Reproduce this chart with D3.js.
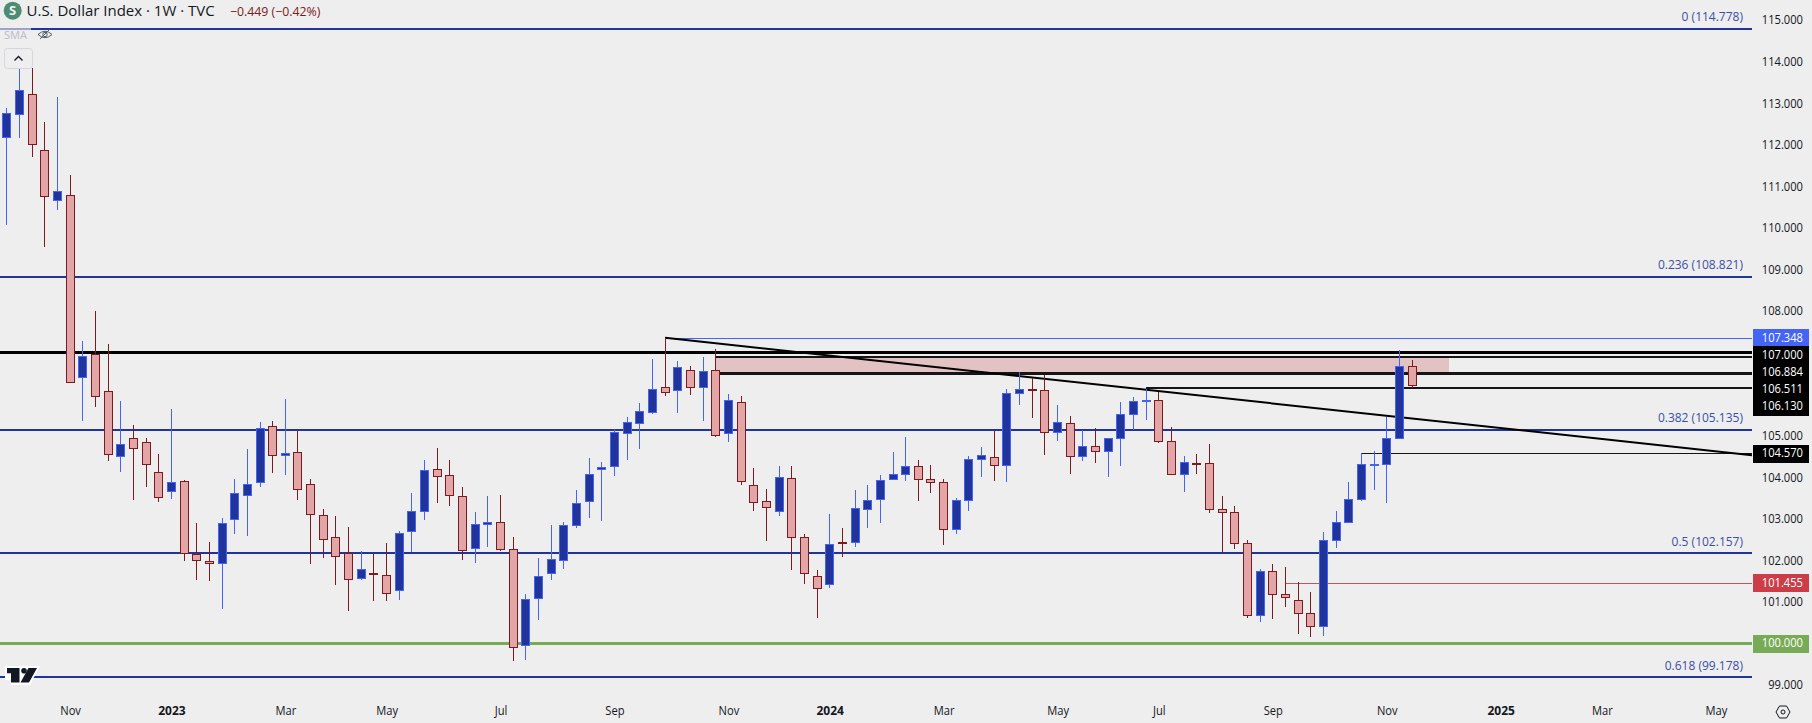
<!DOCTYPE html>
<html>
<head>
<meta charset="utf-8">
<title>U.S. Dollar Index</title>
<script src="https://cdn.jsdelivr.net/npm/d3@7"></script>
<style>
  html, body { margin: 0; padding: 0; background: #eeeeee; overflow: hidden; }
  svg { display: block; }
  text { font-family: "Open Sans", sans-serif; }
  .axis text { font-size: 12px; fill: #131722; }
  .axis path, .axis line { display: none; }
</style>
</head>
<body>
<div id="chart"></div>
<script>
// Candles, semana a semana
const opens = [112.170,112.723,113.204,111.857,110.654,110.774,106.395,106.948,106.058,104.494,104.927,104.831,104.109,103.652,103.893,102.152,101.968,101.920,102.978,103.556,103.869,105.232,104.518,104.606,103.837,103.091,102.561,102.176,101.559,101.695,101.647,101.270,102.690,103.171,104.197,104.037,103.531,102.280,102.858,102.906,102.272,99.946,101.077,101.679,101.992,102.834,103.411,104.181,104.253,105.047,105.288,105.552,106.154,106.082,106.563,106.154,106.563,105.047,105.793,103.796,103.411,103.171,103.964,102.561,101.623,101.414,102.425,102.425,103.219,103.459,103.940,104.061,104.253,103.940,103.868,102.737,103.435,104.422,104.470,104.277,106.010,106.106,106.082,105.071,105.288,104.494,104.734,104.614,104.927,105.504,105.833,105.841,104.855,104.061,104.341,104.325,103.219,103.146,102.401,100.668,101.727,101.174,101.029,100.716,100.404,102.473,102.906,103.459,104.293,104.301,104.927,106.659];
const highs = [112.867,113.910,113.846,112.539,113.140,111.263,107.269,107.991,107.189,105.826,105.248,104.935,104.550,105.633,103.925,102.890,102.425,103.011,103.941,104.663,105.312,105.336,105.866,105.112,103.941,103.219,103.051,102.786,102.217,102.160,102.401,102.698,103.604,104.398,104.687,104.406,103.748,103.154,103.539,103.563,102.545,101.174,102.040,102.834,102.914,103.676,104.446,104.349,105.143,105.432,105.769,106.828,107.348,106.780,106.659,106.876,107.084,105.986,105.937,104.205,103.700,104.253,104.253,102.617,101.751,103.098,102.761,103.676,103.796,104.037,104.590,104.959,104.398,104.277,103.940,103.483,104.494,104.710,105.103,106.106,106.515,106.370,106.451,105.729,105.456,105.119,105.167,104.927,105.793,105.913,106.122,106.034,105.192,104.494,104.542,104.783,103.531,103.291,102.473,101.775,101.895,101.823,101.462,101.222,102.665,103.171,103.868,104.570,104.614,105.432,107.044,106.804];
const lows = [110.060,112.162,111.705,109.539,110.421,106.250,105.352,105.689,104.390,104.125,103.452,103.764,103.403,103.476,101.984,101.527,101.503,100.829,102.634,102.585,103.764,104.101,104.053,103.452,101.912,102.056,101.407,100.781,101.527,101.022,101.022,101.046,102.192,102.970,103.379,103.307,102.008,101.935,102.320,102.224,99.578,99.602,100.564,101.526,101.791,102.778,103.018,102.946,104.029,104.414,104.678,105.520,105.953,105.544,105.978,105.352,104.951,104.847,103.812,103.187,102.465,103.066,101.767,101.430,100.612,101.334,102.080,102.320,102.778,102.898,103.930,103.908,103.427,103.620,102.369,102.633,103.187,104.005,103.908,103.884,105.737,105.424,104.534,104.871,104.077,104.390,104.341,104.005,104.269,105.119,105.376,104.815,104.050,103.644,104.077,103.138,102.160,102.272,100.612,100.516,100.572,100.877,100.227,100.155,100.179,102.296,102.900,103.427,103.692,103.379,104.920,106.130];
const closes = [112.763,113.301,112.001,110.750,110.871,106.275,106.916,105.938,104.542,104.799,104.687,104.302,103.508,103.869,102.176,101.992,101.920,102.898,103.620,103.837,105.184,104.518,104.566,103.700,103.099,102.497,102.088,101.535,101.791,101.655,101.198,102.658,103.187,104.173,104.013,103.555,102.232,102.874,102.906,102.256,99.898,101.053,101.607,102.016,102.834,103.363,104.061,104.229,105.071,105.312,105.577,106.106,106.034,106.635,106.154,106.539,104.999,105.841,103.892,103.387,103.267,103.989,102.545,101.679,101.318,102.393,102.401,103.259,103.451,103.932,104.061,104.253,103.940,103.868,102.737,103.435,104.422,104.518,104.277,106.010,106.106,106.082,105.071,105.312,104.494,104.734,104.614,104.927,105.504,105.817,105.841,104.855,104.061,104.349,104.325,103.219,103.146,102.401,100.668,101.727,101.174,101.101,100.716,100.404,102.473,102.906,103.459,104.301,104.301,104.927,106.659,106.202];

// Eixo de tempo: indice do candle e rotulo
const timeTicks = [5,13,22,30,39,48,57,65,74,83,91,100,109,118,126,135];
const timeLabels = ['Nov','2023','Mar','May','Jul','Sep','Nov','2024','Mar','May','Jul','Sep','Nov','2025','Mar','May'];
// 107, 106 e 100 ficam escondidos pelas etiquetas de preco
const priceTicks = [115,114,113,112,111,110,109,108,105,104,103,102,101,99];

// Fibonacci
const fibLevels = [0,0.236,0.382,0.5,0.618];
const fibPrices = [114.778,108.821,105.135,102.157,99.178];

// Niveis horizontais e onde comecam (indice do candle)
const blackPrices = [107.000,106.884,106.511,106.130,104.570];
const blackStarts = [0,56,56,90,107];
const highPrice = 107.348;
const highStart = 52;
const lowPrice = 101.455;
const lowStart = 101;
const greenPrice = 100;

// Zona rosa
const zonePrices = [106.884,106.511];
const zoneSpan = [56,113.9];

// Linha de tendencia
const trendBars = [52,137.9];
const trendPrices = [107.348,104.52];

const title = 'U.S. Dollar Index · 1W · TVC';
const changeText = '−0.449 (−0.42%)';

// Cores
const blueBody = '#21349b', blueEdge = '#4464f5';
const pinkBody = '#e3a6a6', pinkEdge = '#7b1a20';
const fibColor = '#21349b', greenColor = '#78ab56';

let width = 1812;
let height = 723;
let plotRight = 1752;

let x = d3.scaleLinear().domain([0,111]).range([6.8,1412.06]);
let y = d3.scaleLinear().domain([115,99]).range([19.7,684.7]);
let col = function (i) { return Math.floor(x(i)); };

// Aperta o texto na horizontal, a fonte original e mais estreita
function squeeze(selection, k) {
  selection.each(function () {
    d3.select(this)
      .attr('textLength', this.getComputedTextLength() * k)
      .attr('lengthAdjust','spacingAndGlyphs');
  });
}

let svg = d3.select('#chart').append('svg').attr('width',width).attr('height',height);
svg.append('rect').attr('width',width).attr('height',height).attr('fill','#eeeeee');

let drawings = svg.append('g').attr('shape-rendering','crispEdges');

// Zona
drawings.append('rect')
    .attr('x', col(zoneSpan[0]))
    .attr('y', Math.round(y(zonePrices[0])))
    .attr('width', x(zoneSpan[1]) - col(zoneSpan[0]))
    .attr('height', Math.round(y(zonePrices[1])) - Math.round(y(zonePrices[0])))
    .attr('fill','#e2c2c3');

// Linhas horizontais
function hline(price, start, color, w) {
  let py = Math.round(y(price)) + (w % 2 ? 0.5 : 0);
  drawings.append('line')
      .attr('x1', start === 0 ? 0 : col(start)).attr('x2', plotRight)
      .attr('y1', py).attr('y2', py)
      .attr('stroke', color).attr('stroke-width', w);
}
fibPrices.forEach(function (p) { hline(p, 0, fibColor, 2); });
hline(highPrice, highStart, blueEdge, 1);
hline(lowPrice, lowStart, '#c0565f', 1);
hline(greenPrice, 0, greenColor, 3);
let blackWidths = [3,2,3,2,1];
blackPrices.forEach(function (p,i) { hline(p, blackStarts[i], i === 0 ? '#000000' : '#151515', blackWidths[i]); });

// Linha de tendencia
svg.append('line')
    .attr('x1', x(trendBars[0])).attr('y1', y(trendPrices[0]))
    .attr('x2', plotRight).attr('y2', y(trendPrices[1]))
    .attr('stroke','#000000').attr('stroke-width',2);

// Candles
let candles = svg.append('g').attr('shape-rendering','crispEdges');
let bars = d3.range(opens.length);

candles.selectAll('line.wick')
    .data(bars)
    .enter().append('line')
            .attr('class','wick')
            .attr('x1', function (d) { return col(d) + 0.5; })
            .attr('x2', function (d) { return col(d) + 0.5; })
            .attr('y1', function (d) { return Math.round(y(highs[d])); })
            .attr('y2', function (d) { return Math.round(y(lows[d])); })
            .attr('stroke', function (d) { return closes[d] >= opens[d] ? blueEdge : pinkEdge; });

candles.selectAll('rect.body')
    .data(bars)
    .enter().append('rect')
            .attr('class','body')
            .attr('x', function (d) { return col(d) - 3.5; })
            .attr('width', 8)
            .attr('y', function (d) { return Math.round(y(Math.max(opens[d],closes[d]))) + 0.5; })
            .attr('height', function (d) { return Math.max(1, Math.round(y(Math.min(opens[d],closes[d]))) - Math.round(y(Math.max(opens[d],closes[d])))); })
            .attr('fill', function (d) { return closes[d] >= opens[d] ? blueBody : pinkBody; })
            .attr('stroke', function (d) { return closes[d] >= opens[d] ? blueEdge : pinkEdge; });

// Eixos
let xAxis = d3.axisBottom(x).tickValues(timeTicks).tickSize(0).tickPadding(0)
    .tickFormat(function (d,i) { return timeLabels[i]; });
let gx = svg.append('g').attr('class','axis x').attr('transform','translate(0,706)').call(xAxis);
gx.selectAll('text').style('font-weight', function (d,i) { return timeLabels[i].length === 4 ? 'bold' : 'normal'; })
    .attr('dy','0.71em').attr('y',0);
squeeze(gx.selectAll('text').filter(function (d,i) { return timeLabels[i].length !== 4; }), 0.93);

let yAxis = d3.axisRight(y).tickValues(priceTicks).tickSize(0).tickPadding(0)
    .tickFormat(d3.format('.3f'));
let gy = svg.append('g').attr('class','axis y').attr('transform','translate(1803,0)').call(yAxis);
gy.selectAll('text').attr('text-anchor','end').attr('dy','0.35em');
squeeze(gy.selectAll('text'), 0.93);

// Rotulos do Fibonacci
svg.selectAll('text.fib')
    .data(fibPrices)
    .enter().append('text')
            .attr('class','fib')
            .attr('x', 1743)
            .attr('y', function (d) { return y(d) - 12; })
            .attr('dy','0.35em')
            .attr('text-anchor','end')
            .attr('font-size',12)
            .attr('fill','#3b4ea6')
            .text(function (d,i) { return fibLevels[i] + ' (' + d3.format('.3f')(d) + ')'; });

// Etiquetas de preco no eixo, empilhadas quando colidem
let badgePrices = [highPrice].concat(blackPrices, [lowPrice, greenPrice]);
let badgeColors = [blueEdge,'#000000','#000000','#000000','#000000','#000000','#cc3d47',greenColor];
let lastY = -100;
let badgeY = badgePrices.map(function (p) {
  lastY = Math.max(y(p), lastY + 17.1);
  return lastY;
});
let badges = svg.append('g');
badges.selectAll('rect')
    .data(badgePrices)
    .enter().append('rect')
            .attr('x',1753).attr('width',56)
            .attr('y', function (d,i) { return Math.round(badgeY[i] - 8.5); })
            .attr('height',18)
            .attr('fill', function (d,i) { return badgeColors[i]; });
let badgeText = badges.selectAll('text')
    .data(badgePrices)
    .enter().append('text')
            .attr('x',1803)
            .attr('y', function (d,i) { return badgeY[i]; })
            .attr('dy','0.35em')
            .attr('text-anchor','end')
            .attr('font-size',12)
            .attr('fill','#ffffff')
            .text(function (d) { return d3.format('.3f')(d); });
squeeze(badgeText, 0.93);

// Legenda
svg.append('circle').attr('cx',12.7).attr('cy',10.7).attr('r',9).attr('fill','#4d8b72');
svg.append('text').attr('x',12.7).attr('y',15.2).attr('text-anchor','middle')
    .attr('font-size',13).attr('font-weight','bold').attr('fill','#f2f2f2').text('S');
svg.append('text').attr('x',26.5).attr('y',16).attr('font-size',15).attr('fill','#131722').text(title);
svg.append('text').attr('x',230).attr('y',15.5).attr('font-size',12.3).attr('fill','#7b1a20').text(changeText);

// Faixa do SMA por cima da linha do 0
svg.append('rect').attr('x',0).attr('y',27).attr('width',31).attr('height',14).attr('fill','#eeeeee').attr('opacity',0.6);
svg.append('text').attr('x',4).attr('y',39).attr('font-size',11).attr('fill','#b9bcc6').text('SMA');
svg.append('path')
    .attr('d','M38 34.5Q45 28 52 34.5Q45 41 38 34.5ZM40 39L50 29')
    .attr('fill','none').attr('stroke','#555b66').attr('stroke-width',1);
svg.append('circle').attr('cx',45).attr('cy',34.5).attr('r',2.2).attr('fill','none').attr('stroke','#555b66');

// Botao de recolher
svg.append('rect').attr('x',4.5).attr('y',48.5).attr('width',28).attr('height',20).attr('rx',3)
    .attr('fill','#eeeeee').attr('stroke','#d3d6de');
svg.append('path').attr('d','M14.5 60.5L18.5 56.5L22.5 60.5').attr('fill','none').attr('stroke','#131722').attr('stroke-width',1.3);

// Logo
svg.append('path').attr('d','M5 666H40L30 685H11V680H5Z').attr('fill','#ffffff');
svg.append('path').attr('d','M7 668H19.5V682.5H11V673.3H7Z').attr('fill','#131722');
svg.append('circle').attr('cx',24).attr('cy',670.7).attr('r',2.8).attr('fill','#131722');
svg.append('path').attr('d','M28.5 668H37L29 682.5H20.5Z').attr('fill','#131722');

// Icone de configuracao
svg.append('path').attr('d','M1776 712L1779.5 706H1786.5L1790 712L1786.5 718H1779.5Z')
    .attr('fill','none').attr('stroke','#131722');
svg.append('circle').attr('cx',1783).attr('cy',712).attr('r',2).attr('fill','none').attr('stroke','#131722');
</script>
</body>
</html>
